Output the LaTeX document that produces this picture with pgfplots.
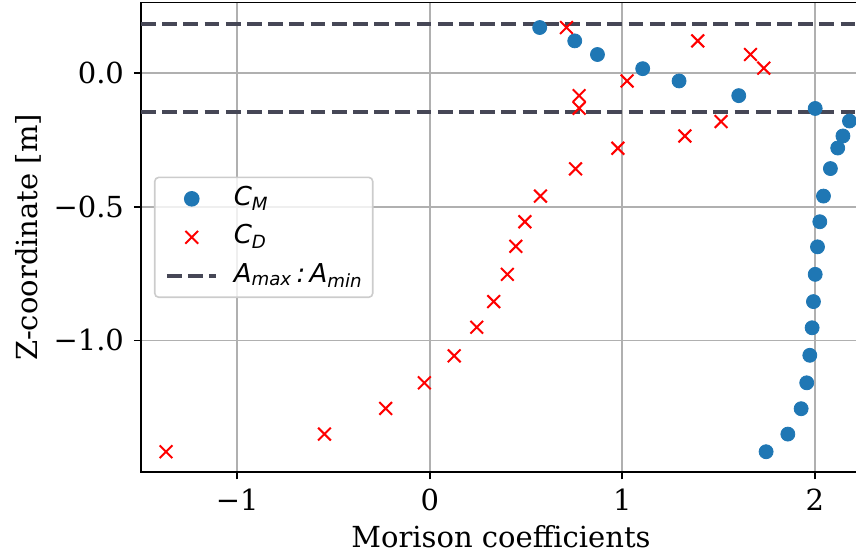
\documentclass[border=0pt]{standalone}
\usepackage{fontspec}
\setmainfont{DejaVu Serif}
\newfontfamily\legfont{DejaVu Sans}
\usepackage{pgfplots}
\pgfplotsset{compat=1.18}

\definecolor{cmblue}{HTML}{1F77B4}
\definecolor{dashgray}{RGB}{70,71,86}
\definecolor{gridgray}{HTML}{B0B0B0}
\definecolor{legframe}{HTML}{CCCCCC}

\pgfplotsset{
    markleg/.style={legend image code/.code={\draw[mark repeat=2,mark phase=2,##1,opacity=1] plot coordinates {(0pt,0pt) (12.5pt,0pt) (24.5pt,0pt)};}},
    lineleg/.style={legend image code/.code={\draw[##1,opacity=1] (0pt,0pt) -- (24.5pt,0pt);}},
    hline/.style={dashgray, line width=2pt, dash pattern=on 7.4pt off 3.2pt},
}

\begin{document}
\fontsize{14.5}{17}\selectfont
\begin{tikzpicture}
\begin{axis}[
    name=ax,
    scale only axis,
    width=360pt, height=234.8pt,
    xmin=-1.5, xmax=2.24,
    ymin=-1.494, ymax=0.264,
    xtick={-1,0,1,2}, xticklabels={−1,0,1,2},
    ytick={-1,-0.5,0}, yticklabels={−1.0,−0.5,0.0},
    tick align=outside, tick pos=left,
    major tick length=3.5pt,
    every tick/.style={black, line width=0.8pt},
    grid=major,
    grid style={gridgray, line width=0.8pt},
    axis line style={line width=0.8pt},
    ticklabel style={font=\fontsize{14.5}{17}\selectfont},
    label style={font=\fontsize{14.5}{17}\selectfont},
    xlabel={Morison coefficients},
    ylabel={Z-coordinate [m]},
    every axis x label/.style={at={(axis description cs:0.5,0)}, anchor=base, yshift=-37.85pt},
    every axis y label/.style={at={(axis description cs:-0.1563,0.5)}, rotate=90, anchor=center},
    legend style={
        at={(axis description cs:0.018,0.371)}, anchor=south west,
        draw=legframe, line width=0.8pt, rounded corners=2pt,
        fill=white, fill opacity=0.8, text opacity=1,
        font=\legfont\itshape\fontsize{13}{15}\selectfont,
        inner xsep=5pt, inner ysep=4.6pt,
        row sep=7pt, column sep=8pt,
        nodes={inner sep=0pt, text height=9.25pt, text depth=3pt},
    },
    legend cell align=left,
]

% horizontal lines A_max and A_min (under the markers)
\addplot[hline, forget plot] coordinates {(-1.5,0.1835) (2.24,0.1835)};
\addplot[hline, forget plot] coordinates {(-1.5,-0.146) (2.24,-0.146)};

% C_M
\addplot[only marks, mark=*, mark size=3.5pt, cmblue, mark options={draw=none, fill=cmblue}, markleg]
coordinates {
    (0.571,0.171) (0.753,0.121) (0.871,0.070) (1.106,0.017) (1.295,-0.029)
    (1.605,-0.084) (2.002,-0.132) (2.180,-0.179) (2.146,-0.235) (2.119,-0.280)
    (2.081,-0.357) (2.045,-0.460) (2.026,-0.556) (2.014,-0.650) (2.002,-0.753)
    (1.993,-0.855) (1.986,-0.953) (1.974,-1.056) (1.958,-1.159) (1.929,-1.256)
    (1.860,-1.351) (1.747,-1.417)
};
\addlegendentry{C\textsubscript{M}}

% C_D
\addplot[only marks, mark=x, mark size=4.5pt, red, line width=1pt, markleg]
coordinates {
    (0.710,0.171) (1.392,0.121) (1.666,0.070) (1.735,0.019) (1.025,-0.029)
    (0.776,-0.084) (0.776,-0.131) (1.513,-0.181) (1.325,-0.235) (0.977,-0.281)
    (0.757,-0.358) (0.575,-0.460) (0.494,-0.556) (0.447,-0.648) (0.403,-0.753)
    (0.332,-0.855) (0.244,-0.951) (0.127,-1.058) (-0.028,-1.159) (-0.229,-1.255)
    (-0.547,-1.351) (-1.370,-1.417)
};
\addlegendentry{C\textsubscript{D}}

\addlegendimage{hline, lineleg}
\addlegendentry{A\textsubscript{max}\,:\,A\textsubscript{min}}

\end{axis}
% the reference is cut off just before the right spine
\pgfresetboundingbox
\path[use as bounding box] ([xshift=-70.5pt,yshift=-41.85pt]ax.south west)
    rectangle ([xshift=357.5pt,yshift=1.35pt]ax.north west);
\end{tikzpicture}
\end{document}
